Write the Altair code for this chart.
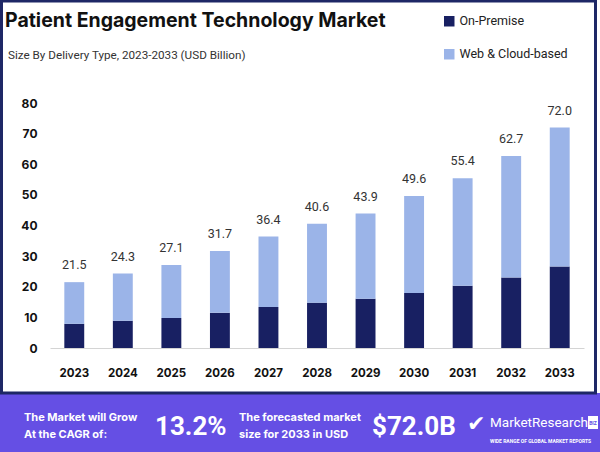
import altair as alt
import pandas as pd

years = ["2023", "2024", "2025", "2026", "2027", "2028", "2029", "2030", "2031", "2032", "2033"]
on_premise = [7.9, 8.9, 9.8, 11.5, 13.4, 14.8, 16.1, 18.0, 20.3, 23.0, 26.6]
web_cloud = [13.6, 15.4, 17.3, 20.2, 23.0, 25.8, 27.8, 31.6, 35.1, 39.7, 45.4]
totals = [21.5, 24.3, 27.1, 31.7, 36.4, 40.6, 43.9, 49.6, 55.4, 62.7, 72.0]
segments = ["On-Premise", "Web & Cloud-based"]
colors = ["#182062", "#9BB4E8"]
y_ticks = [0, 10, 20, 30, 40, 50, 60, 70, 80]

rows = []
for i, yr in enumerate(years):
    rows.append({"year": yr, "segment": segments[0], "value": on_premise[i], "order": 0})
    rows.append({"year": yr, "segment": segments[1], "value": web_cloud[i], "order": 1})
df = pd.DataFrame(rows)
tot = pd.DataFrame({"year": years, "total": totals})
one = pd.DataFrame({"a": [0]})

W, H = 534, 245
PL, PT = 50, 103

x_scale = alt.Scale(paddingInner=0.59, paddingOuter=0.295)
x_axis = alt.Axis(title=None, labelAngle=0, ticks=False, domainColor="#d4d4d4",
                  labelFont="Inter", labelFontWeight="bold", labelFontSize=11.5,
                  labelColor="#111111", labelPadding=19)
y_scale = alt.Scale(domain=[0, 80])
y_axis = alt.Axis(values=y_ticks, title=None, grid=False, domain=False, ticks=False,
                  labelOverlap=False, labelPadding=13, labelFont="Inter",
                  labelFontWeight="bold", labelFontSize=12, labelColor="#111111")

bars = alt.Chart(df).mark_bar().encode(
    x=alt.X("year:N", sort=years, scale=x_scale, axis=x_axis),
    y=alt.Y("value:Q", stack="zero", scale=y_scale, axis=y_axis),
    color=alt.Color("segment:N", scale=alt.Scale(domain=segments, range=colors),
                    legend=alt.Legend(title=None, orient="none", legendX=393, legendY=-88,
                                      symbolType="square", symbolSize=110, symbolStrokeWidth=0,
                                      labelFont="Roboto", labelFontSize=12.5, labelColor="#222222",
                                      rowPadding=20, labelOffset=4, padding=0)),
    order=alt.Order("order:Q"),
)

labels = alt.Chart(tot).mark_text(dy=-17, font="Roboto", fontSize=12.5, color="#333333").encode(
    x=alt.X("year:N", sort=years, scale=x_scale, axis=x_axis),
    y=alt.Y("total:Q", scale=y_scale, axis=y_axis),
    text=alt.Text("total:Q", format=".1f"),
)


def txt(x, y, text, **kw):
    kw.setdefault("align", "left")
    kw.setdefault("baseline", "middle")
    return alt.Chart(one).mark_text(**kw).encode(
        x=alt.value(x - PL), y=alt.value(y - PT), text=alt.value(text))


def box(x1, y1, x2, y2, **kw):
    return alt.Chart(one).mark_rect(**kw).encode(
        x=alt.value(x1 - PL), x2=alt.value(x2 - PL), y=alt.value(y1 - PT), y2=alt.value(y2 - PT))


border = box(1.5, 1, 595.5, 393, fillOpacity=0, stroke="#1E2766", strokeWidth=3)
banner = box(0, 393, 600, 452, color="#654FE4")

title = txt(5, 21, "Patient Engagement Technology Market", font="Inter", fontSize=19.5,
            fontWeight="bold", color="#111111")
subtitle = txt(8, 55, "Size By Delivery Type, 2023-2033 (USD Billion)", font="Roboto",
               fontSize=11.7, color="#333333")

b1 = txt(24, 418, "The Market will Grow", font="Inter", fontSize=11, fontWeight="bold", color="white")
b2 = txt(24, 435, "At the CAGR of:", font="Inter", fontSize=11, fontWeight="bold", color="white")
b3 = txt(155, 427, "13.2%", font="Roboto", fontSize=26, fontWeight="bold", color="white")
b4 = txt(239, 418, "The forecasted market", font="Inter", fontSize=11, fontWeight="bold", color="white")
b5 = txt(239, 435, "size for 2033 in USD", font="Inter", fontSize=11, fontWeight="bold", color="white")
b6 = txt(372, 427, "$72.0B", font="Roboto", fontSize=26, fontWeight="bold", color="white")
logo1 = txt(467, 424, "✔", font="DejaVu Sans", fontSize=22, color="white")
logo2 = txt(490, 423, "MarketResearch", font="Roboto", fontSize=13.5, color="white")
logo_box = box(588, 416, 598, 429, color="white")
logo3 = txt(593, 422.5, "BIZ", align="center", font="Roboto", fontSize=5, fontWeight="bold", color="#654FE4")
logo4 = txt(490, 441, "WIDE RANGE OF GLOBAL MARKET REPORTS", font="Roboto", fontSize=5,
            fontWeight="bold", color="white")

chart = alt.layer(
    banner, border, bars, labels, title, subtitle,
    b1, b2, b3, b4, b5, b6, logo1, logo2, logo_box, logo3, logo4,
).properties(
    width=W, height=H,
    padding={"left": PL, "top": PT, "right": 600 - PL - W, "bottom": 452 - PT - H},
    autosize=alt.AutoSizeParams(type="none"),
    background="white",
).configure_view(stroke=None)

chart.save("out.html", embed_options={"renderer": "svg", "actions": False})
